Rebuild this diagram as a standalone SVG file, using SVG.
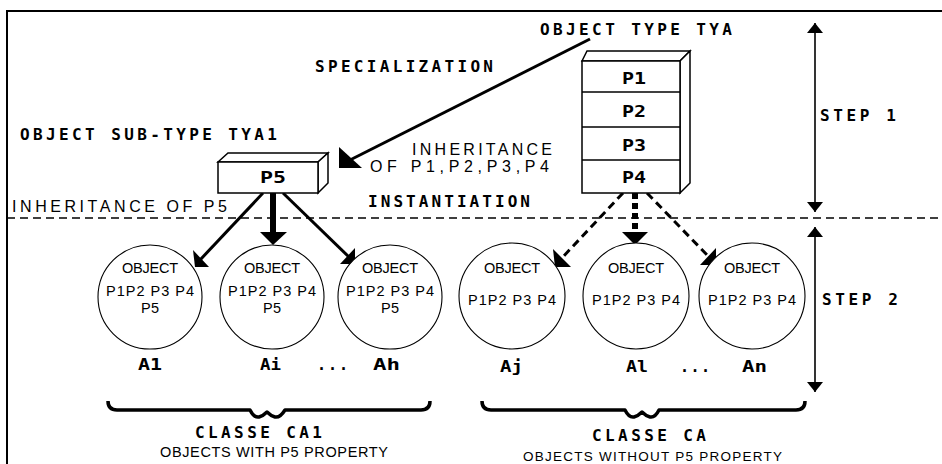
<svg xmlns="http://www.w3.org/2000/svg" width="942" height="464" viewBox="0 0 942 464">
<defs>
<style>
.bt{font-family:"DejaVu Sans Mono","Liberation Mono",monospace;font-weight:bold;font-size:16px;fill:#000}
.bs{font-family:"DejaVu Sans Mono","Liberation Mono",monospace;font-weight:bold;font-size:15px;fill:#000}
.tt{font-family:"Liberation Sans",Arial,sans-serif;font-size:16px;fill:#000}
.ct{font-family:"Liberation Sans",Arial,sans-serif;font-size:14.5px;fill:#000}
.box{fill:#fff;stroke:#000;stroke-width:1.5}
.circ{fill:#fff;stroke:#000;stroke-width:1.1}
.solid{stroke:#000;stroke-width:3;fill:none}
.dash{stroke:#000;stroke-width:3;fill:none;stroke-dasharray:8 5}
.head{fill:#000;stroke:none}
.dim{stroke:#000;stroke-width:1.6;fill:none;marker-start:url(#tri);marker-end:url(#tri)}
.brace{stroke:#000;stroke-width:3.5;fill:none;stroke-linejoin:round}
</style>
<marker id="tri" viewBox="0 0 10 16" refX="10" refY="8" markerWidth="10" markerHeight="16" markerUnits="userSpaceOnUse" orient="auto-start-reverse">
<path d="M0,0 L10,8 L0,16 z" fill="#000"/>
</marker>
</defs>
<rect width="942" height="464" fill="#fff"/>
<path d="M7,464 V11 H942" fill="none" stroke="#000" stroke-width="2"/>
<line x1="7" y1="218" x2="942" y2="218" stroke="#000" stroke-width="1.5" stroke-dasharray="8 5"/>

<g id="connectors">
<line class="solid" x1="590" y1="39" x2="350" y2="160"/>
<polygon class="head" points="339,147 339,168 362,168"/>
<line class="solid" x1="263" y1="193" x2="200" y2="260"/>
<polygon class="head" points="193,250 195,267 209,267"/>
<line x1="273" y1="193" x2="273" y2="234" stroke="#000" stroke-width="6"/>
<polygon class="head" points="260,232 287,232 273,245"/>
<line class="solid" x1="283" y1="193" x2="350" y2="258"/>
<polygon class="head" points="355,248 355,264 340,264"/>
<line class="dash" x1="623" y1="193" x2="560" y2="260"/>
<polygon class="head" points="553,249 555,267 571,267"/>
<line x1="635" y1="193" x2="635" y2="234" stroke="#000" stroke-width="6" stroke-dasharray="6 4"/>
<polygon class="head" points="622,232 648,232 635,245"/>
<line class="dash" x1="647" y1="193" x2="710" y2="258"/>
<polygon class="head" points="716,248 716,265 700,265"/>
<line class="dim" x1="815" y1="23" x2="815" y2="212"/>
<line class="dim" x1="815" y1="227" x2="815" y2="392"/>
</g>

<g id="type-tya">
<polygon class="box" points="582,61 587,51 690,51 680,61"/>
<polygon class="box" points="680,61 690,51 690,183 680,193"/>
<rect class="box" x="582" y="61" width="98" height="132"/>
<line x1="582" y1="92" x2="680" y2="92" stroke="#000" stroke-width="1.5"/>
<line x1="582" y1="127" x2="680" y2="127" stroke="#000" stroke-width="1.5"/>
<line x1="582" y1="160" x2="680" y2="160" stroke="#000" stroke-width="1.5"/>
<text class="bt" x="622" y="84" textLength="24" lengthAdjust="spacingAndGlyphs">P1</text>
<text class="bt" x="622" y="117" textLength="24" lengthAdjust="spacingAndGlyphs">P2</text>
<text class="bt" x="622" y="151" textLength="24" lengthAdjust="spacingAndGlyphs">P3</text>
<text class="bt" x="622" y="183" textLength="24" lengthAdjust="spacingAndGlyphs">P4</text>
<text class="bt" x="540" y="35" textLength="192">OBJECT TYPE TYA</text>
</g>

<g id="sub-type-tya1">
<polygon class="box" points="218,162 228,153 328,153 318,162"/>
<polygon class="box" points="318,162 328,153 328,183 318,193"/>
<rect class="box" x="218" y="162" width="100" height="31"/>
<text class="bt" x="260" y="183" textLength="26" lengthAdjust="spacingAndGlyphs">P5</text>
<text class="bt" x="20" y="140" textLength="257">OBJECT SUB-TYPE TYA1</text>
</g>

<g id="labels">
<text class="bt" x="315" y="72" textLength="178">SPECIALIZATION</text>
<text class="tt" x="412" y="155" textLength="140">INHERITANCE</text>
<text class="tt" x="370" y="172" textLength="179">OF P1,P2,P3,P4</text>
<text class="bt" x="368" y="207" textLength="162">INSTANTIATION</text>
<text class="tt" x="12" y="212" textLength="215">INHERITANCE OF P5</text>
<text class="bt" x="820" y="121" textLength="76">STEP 1</text>
<text class="bt" x="822" y="305" textLength="76">STEP 2</text>
</g>

<g id="obj-a1">
<circle class="circ" cx="150" cy="297" r="52"/>
<text class="ct" x="122" y="273" textLength="56">OBJECT</text>
<text class="ct" x="106" y="296" textLength="88">P1P2 P3 P4</text>
<text class="ct" x="141" y="313" textLength="18">P5</text>
<text class="bs" x="138" y="370" textLength="24" lengthAdjust="spacingAndGlyphs">A1</text>
</g>
<g id="obj-ai">
<circle class="circ" cx="272" cy="297" r="52"/>
<text class="ct" x="244" y="273" textLength="56">OBJECT</text>
<text class="ct" x="228" y="296" textLength="88">P1P2 P3 P4</text>
<text class="ct" x="263" y="313" textLength="18">P5</text>
<text class="bs" x="260" y="370" textLength="21" lengthAdjust="spacingAndGlyphs">Ai</text>
</g>
<g id="obj-ah">
<circle class="circ" cx="390" cy="297" r="52"/>
<text class="ct" x="362" y="273" textLength="56">OBJECT</text>
<text class="ct" x="346" y="296" textLength="88">P1P2 P3 P4</text>
<text class="ct" x="381" y="313" textLength="18">P5</text>
<text class="bs" x="317" y="370" textLength="31">...</text>
<text class="bs" x="373" y="370" textLength="27" lengthAdjust="spacingAndGlyphs">Ah</text>
</g>
<g id="obj-aj">
<circle class="circ" cx="512" cy="296" r="53"/>
<text class="ct" x="484" y="273" textLength="56">OBJECT</text>
<text class="ct" x="468" y="305" textLength="88">P1P2 P3 P4</text>
<text class="bs" x="500" y="372" textLength="23" lengthAdjust="spacingAndGlyphs">Aj</text>
</g>
<g id="obj-al">
<circle class="circ" cx="636" cy="296" r="53"/>
<text class="ct" x="608" y="273" textLength="56">OBJECT</text>
<text class="ct" x="592" y="305" textLength="88">P1P2 P3 P4</text>
<text class="bs" x="626" y="372" textLength="22" lengthAdjust="spacingAndGlyphs">Al</text>
</g>
<g id="obj-an">
<circle class="circ" cx="752" cy="296" r="53"/>
<text class="ct" x="724" y="273" textLength="56">OBJECT</text>
<text class="ct" x="708" y="305" textLength="88">P1P2 P3 P4</text>
<text class="bs" x="680" y="372" textLength="30">...</text>
<text class="bs" x="742" y="372" textLength="25" lengthAdjust="spacingAndGlyphs">An</text>
</g>

<g id="class-ca1">
<path class="brace" d="M108,401 Q108,410 117,410 L250,410 Q254,418 259,417 Q263,416 267,412 Q271,416 275,417 Q280,418 285,410 L421,410 Q430,410 430,401"/>
<text class="bt" x="195" y="438" textLength="127">CLASSE CA1</text>
<text class="ct" x="160" y="457" textLength="228">OBJECTS WITH P5 PROPERTY</text>
</g>
<g id="class-ca">
<path class="brace" d="M482,401 Q482,410 491,410 L625,410 Q629,418 634,417 Q638,416 642,412 Q646,416 650,417 Q655,418 659,410 L796,410 Q805,410 805,401"/>
<text class="bt" x="592" y="441" textLength="114">CLASSE CA</text>
<text class="ct" x="523" y="461" textLength="259" style="font-size:13.5px">OBJECTS WITHOUT P5 PROPERTY</text>
</g>
</svg>
